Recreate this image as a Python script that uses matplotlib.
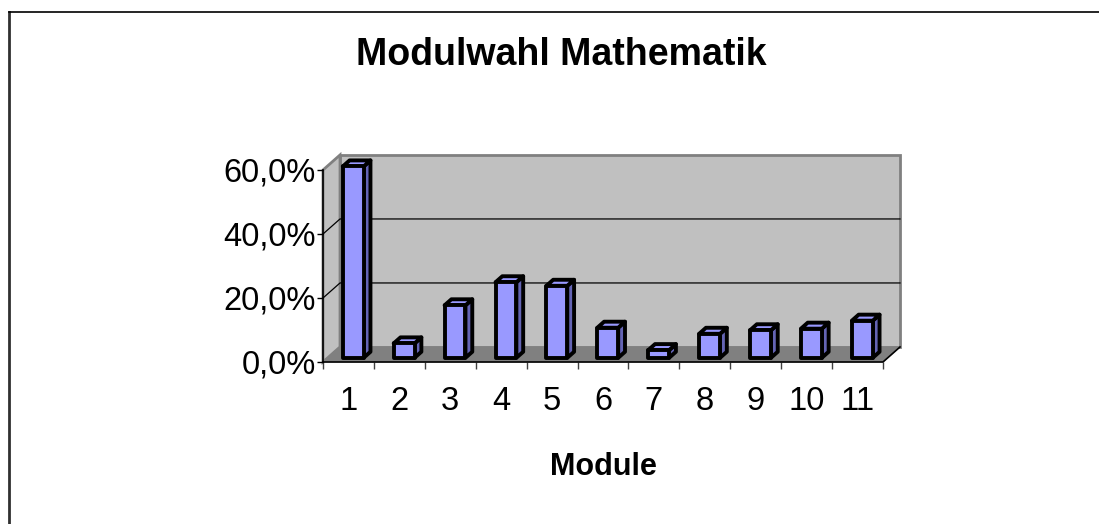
import numpy as np
import matplotlib
matplotlib.use("Agg")
import matplotlib.pyplot as plt
from matplotlib.patches import Polygon
from matplotlib.lines import Line2D

plt.rcParams["font.family"] = ["Liberation Sans", "DejaVu Sans"]

# Daten
module = [str(i) for i in range(1, 12)]
anteil = [59.8, 4.5, 16.4, 23.6, 22.5, 9.4, 2.4, 7.5, 8.6, 9.1, 11.6]
y_ticks = [0, 20, 40, 60]
y_labels = ["0,0%", "20,0%", "40,0%", "60,0%"]

# Tiefe der Pseudo-3D-Darstellung (in Datenkoordinaten)
dx, dy = 0.334, 4.7
f0, f1 = 0.28, 0.68
bw = 0.41

W, H = 1099, 524
fig = plt.figure(figsize=(W / 100, H / 100), dpi=100)
ax = fig.add_axes([323 / W, (H - 362) / H, 560 / W, 192 / H])
n = len(module)
xl, xr = 0.5, n + 0.5
ymax = 60
ax.set_xlim(xl, xr)
ax.set_ylim(0, ymax)
for s in ax.spines.values():
    s.set_visible(False)
ax.patch.set_visible(False)

# Rückwand, Seitenwand, Boden
ax.add_patch(Polygon([(xl + dx, dy), (xr + dx, dy), (xr + dx, ymax + dy), (xl + dx, ymax + dy)],
                     closed=True, fc="#c0c0c0", ec="#808080", lw=2, clip_on=False, zorder=1))
ax.add_patch(Polygon([(xl, 0), (xl + dx, dy), (xl + dx, ymax + dy), (xl, ymax)],
                     closed=True, fc="#c0c0c0", ec="#808080", lw=2, clip_on=False, zorder=1))
ax.add_patch(Polygon([(xl, 0), (xr, 0), (xr + dx, dy), (xl + dx, dy)],
                     closed=True, fc="#808080", ec="#808080", lw=0.5, clip_on=False, zorder=2))

# Gitterlinien
for g in y_ticks[1:-1]:
    ax.plot([xl, xl + dx, xr + dx], [g, g + dy, g + dy], color="black", lw=0.9,
            clip_on=False, zorder=2)

# Achsenlinien
ax.plot([xl, xl], [0, ymax], color="black", lw=1.2, clip_on=False, zorder=3)
ax.plot([xl, xr, xr + dx], [0, 0, dy], color="black", lw=1.2, clip_on=False, zorder=3)

# Säulen
for i, v in enumerate(anteil):
    x0 = i + 1 - bw / 2 + f0 * dx
    x1 = x0 + bw
    b = f0 * dy
    ddx = (f1 - f0) * dx
    ddy = (f1 - f0) * dy
    front = [(x0, b), (x1, b), (x1, b + v), (x0, b + v)]
    side = [(x1, b), (x1 + ddx, b + ddy), (x1 + ddx, b + v + ddy), (x1, b + v)]
    top = [(x0, b + v), (x1, b + v), (x1 + ddx, b + v + ddy), (x0 + ddx, b + v + ddy)]
    for pts, c in [(side, "#6464b4"), (top, "#9999ff"), (front, "#9999ff")]:
        ax.add_patch(Polygon(pts, closed=True, fc=c, ec="black", lw=2.8,
                             joinstyle="round", clip_on=False, zorder=4))

# Achsenbeschriftung
ax.set_yticks(y_ticks)
ax.set_yticklabels(y_labels, fontsize=23.5)
ax.tick_params(axis="y", length=4, width=1, pad=1)
ax.set_xticks(np.arange(1, n + 1))
ax.set_xticklabels(module, fontsize=23.5)
ax.tick_params(axis="x", which="major", length=0, pad=17)
ax.set_xticks(np.arange(xl, xr + 0.01, 1.0), minor=True)
ax.tick_params(axis="x", which="minor", length=5, width=1, color="#404040")

fig.text(561 / W, (H - 65) / H, "Modulwahl Mathematik", fontsize=27, fontweight="bold",
         ha="center", va="baseline")
fig.text(603 / W, (H - 475) / H, "Module", fontsize=22, fontweight="bold",
         ha="center", va="baseline")

# Rahmen
fig.add_artist(Line2D([9 / W, 9 / W], [0, (H - 12) / H], color="#303030", lw=2))
fig.add_artist(Line2D([9 / W, 1], [(H - 12) / H, (H - 12) / H], color="black", lw=1.2))

fig.savefig("out.png", dpi=100)
